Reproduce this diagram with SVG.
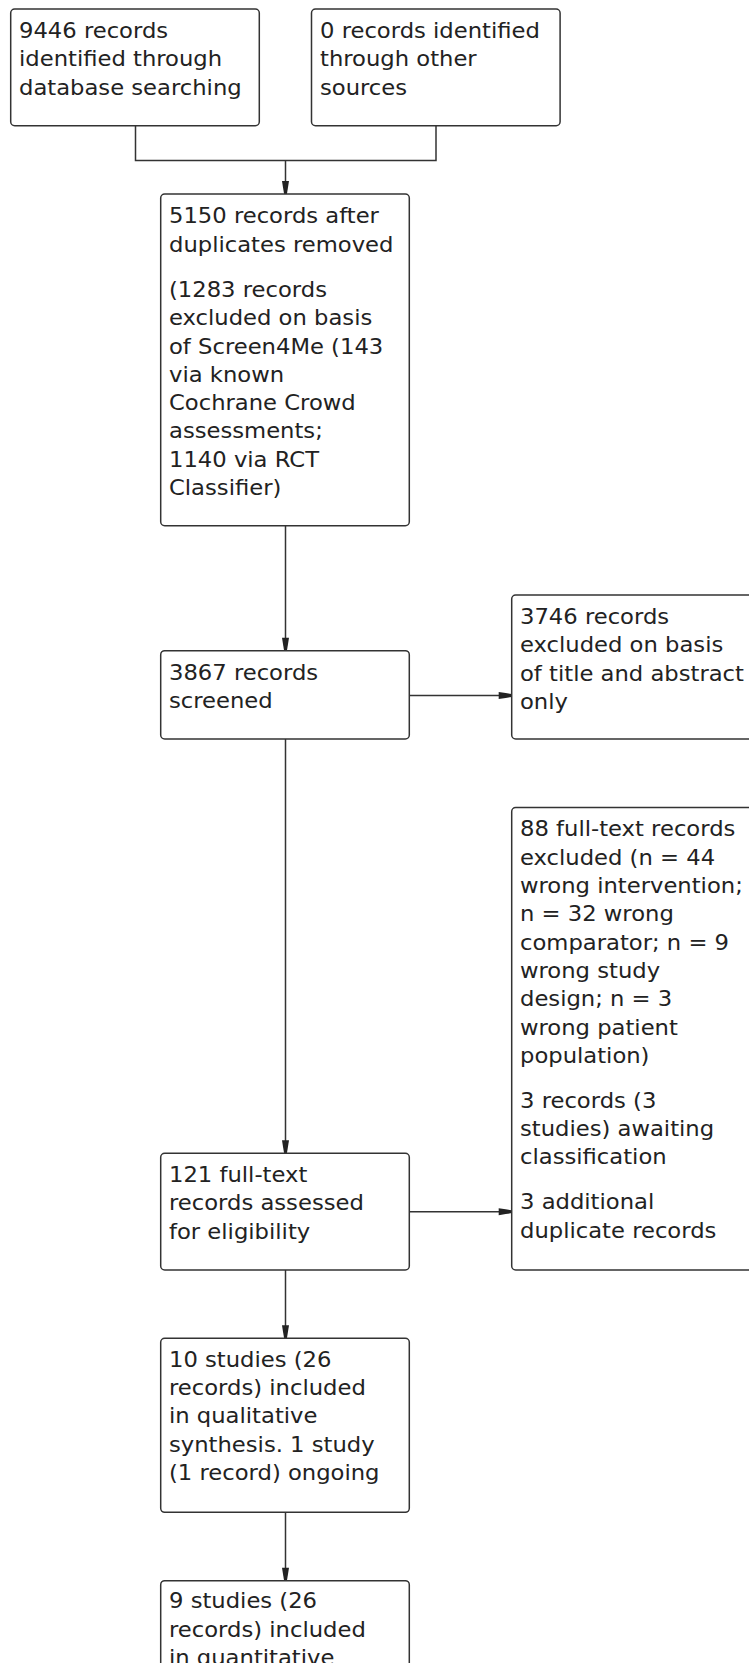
<svg xmlns="http://www.w3.org/2000/svg" width="749" height="1663" viewBox="0 0 749 1663">
<style>
.box{fill:#fff;stroke:#333;stroke-width:1.5}
.t{font-family:"DejaVu Sans","Liberation Sans",sans-serif;font-size:21px;fill:#222}
.c{fill:none;stroke:#333;stroke-width:1.5}
</style>
<defs>
<marker id="ah" markerUnits="userSpaceOnUse" viewBox="-14 -4 15 8" refX="0" refY="0" markerWidth="15" markerHeight="8" orient="auto" overflow="visible">
<path d="M-13,-3.5 L-6,-2.4 L0,-1.4 L0,1.4 L-6,2.4 L-13,3.5 Z" fill="#222"/>
</marker>
</defs>
<rect width="749" height="1663" fill="#fff"/>
<g id="connectors">
<path class="c" d="M135.5,125.7 V160.5 H436 V125.7"/>
<path class="c" d="M285.5,160.5 V194" marker-end="url(#ah)"/>
<path class="c" d="M285.5,525.7 V650.7" marker-end="url(#ah)"/>
<path class="c" d="M409.3,695.5 H511.7" marker-end="url(#ah)"/>
<path class="c" d="M285.5,739 V1153.3" marker-end="url(#ah)"/>
<path class="c" d="M409.3,1211.7 H511.7" marker-end="url(#ah)"/>
<path class="c" d="M285.5,1270 V1338.3" marker-end="url(#ah)"/>
<path class="c" d="M285.5,1512.3 V1580.7" marker-end="url(#ah)"/>
</g>
<g id="nodeA">
<rect class="box" x="10.7" y="9" width="248.6" height="116.7" rx="4"/>
<text class="t" transform="translate(19,0) scale(1.08,1)"><tspan x="0" y="38">9446 records</tspan><tspan x="0" y="66.3">identified through</tspan><tspan x="0" y="94.6">database searching</tspan></text>
</g>
<g id="nodeB">
<rect class="box" x="311.5" y="9" width="248.6" height="116.7" rx="4"/>
<text class="t" transform="translate(320,0) scale(1.08,1)"><tspan x="0" y="38">0 records identified</tspan><tspan x="0" y="66.3">through other</tspan><tspan x="0" y="94.6">sources</tspan></text>
</g>
<g id="nodeC">
<rect class="box" x="160.7" y="194" width="248.6" height="331.7" rx="4"/>
<text class="t" transform="translate(169,0) scale(1.08,1)"><tspan x="0" y="223.3">5150 records after</tspan><tspan x="0" y="251.6">duplicates removed</tspan><tspan x="0" y="297">(1283 records</tspan><tspan x="0" y="325.3">excluded on basis</tspan><tspan x="0" y="353.6">of Screen4Me (143</tspan><tspan x="0" y="381.9">via known</tspan><tspan x="0" y="410.2">Cochrane Crowd</tspan><tspan x="0" y="438.5">assessments;</tspan><tspan x="0" y="466.8">1140 via RCT</tspan><tspan x="0" y="495.1">Classifier)</tspan></text>
</g>
<g id="nodeD">
<rect class="box" x="160.7" y="650.7" width="248.6" height="88.3" rx="4"/>
<text class="t" transform="translate(169,0) scale(1.08,1)"><tspan x="0" y="679.7">3867 records</tspan><tspan x="0" y="708">screened</tspan></text>
</g>
<g id="nodeE">
<rect class="box" x="511.7" y="595" width="248.6" height="144" rx="4"/>
<text class="t" transform="translate(520,0) scale(1.08,1)"><tspan x="0" y="624">3746 records</tspan><tspan x="0" y="652.3">excluded on basis</tspan><tspan x="0" y="680.6">of title and abstract</tspan><tspan x="0" y="708.9">only</tspan></text>
</g>
<g id="nodeF">
<rect class="box" x="160.7" y="1153.3" width="248.6" height="116.7" rx="4"/>
<text class="t" transform="translate(169,0) scale(1.08,1)"><tspan x="0" y="1182">121 full-text</tspan><tspan x="0" y="1210.3">records assessed</tspan><tspan x="0" y="1238.6">for eligibility</tspan></text>
</g>
<g id="nodeG">
<rect class="box" x="511.7" y="807.5" width="248.6" height="462.5" rx="4"/>
<text class="t" transform="translate(520,0) scale(1.08,1)"><tspan x="0" y="836.5">88 full-text records</tspan><tspan x="0" y="864.8">excluded (n = 44</tspan><tspan x="0" y="893.1">wrong intervention;</tspan><tspan x="0" y="921.4">n = 32 wrong</tspan><tspan x="0" y="949.7">comparator; n = 9</tspan><tspan x="0" y="978">wrong study</tspan><tspan x="0" y="1006.3">design; n = 3</tspan><tspan x="0" y="1034.6">wrong patient</tspan><tspan x="0" y="1062.9">population)</tspan><tspan x="0" y="1107.9">3 records (3</tspan><tspan x="0" y="1136.2">studies) awaiting</tspan><tspan x="0" y="1164.5">classification</tspan><tspan x="0" y="1209.5">3 additional</tspan><tspan x="0" y="1237.8">duplicate records</tspan></text>
</g>
<g id="nodeH">
<rect class="box" x="160.7" y="1338.3" width="248.6" height="174" rx="4"/>
<text class="t" transform="translate(169,0) scale(1.08,1)"><tspan x="0" y="1366.7">10 studies (26</tspan><tspan x="0" y="1395">records) included</tspan><tspan x="0" y="1423.3">in qualitative</tspan><tspan x="0" y="1451.6">synthesis. 1 study</tspan><tspan x="0" y="1479.9">(1 record) ongoing</tspan></text>
</g>
<g id="nodeI">
<rect class="box" x="160.7" y="1580.7" width="248.6" height="120" rx="4"/>
<text class="t" transform="translate(169,0) scale(1.08,1)"><tspan x="0" y="1608.3">9 studies (26</tspan><tspan x="0" y="1636.6">records) included</tspan><tspan x="0" y="1664.9">in quantitative</tspan></text>
</g>
</svg>
